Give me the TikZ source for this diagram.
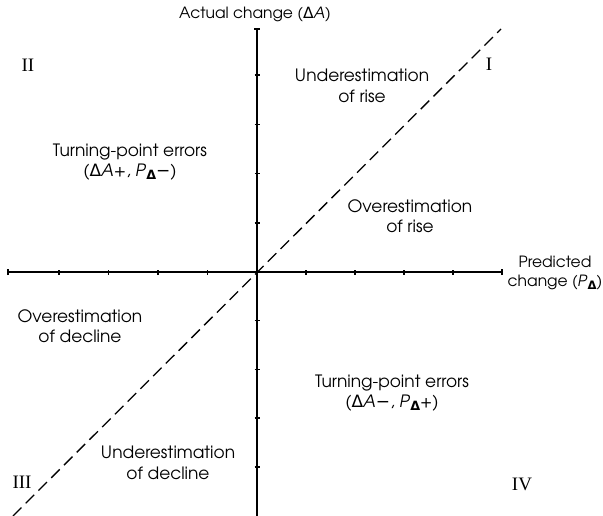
\documentclass[tikz,border=0pt]{standalone}
\usepackage{fontspec}
\setmainfont{texgyreadventor}[Extension=.otf,UprightFont=*-regular,ItalicFont=*-italic,BoldFont=*-bold]
\newfontfamily\dv{DejaVu Sans}
\newfontfamily\dvb{DejaVu Sans Bold}
\newfontfamily\rom{Liberation Serif}
\newcommand{\Dl}{{\dv Δ}}
\newcommand{\Dsub}{\raisebox{-0.35ex}{\scalebox{0.75}{\dvb Δ}}}
\newcommand{\mn}{{\dv −}}
\begin{document}
\begin{tikzpicture}[x=1pt,y=-1pt,
  axis/.style={line width=1.5pt,black},
  tick/.style={line width=1.5pt,black},
  diag/.style={line width=1.3pt,black,dash pattern=on 12pt off 6pt},
  lbl/.style={font=\fontsize{17}{20.5}\selectfont,align=center,inner sep=0pt},
  axlbl/.style={font=\fontsize{15.5}{19}\selectfont,align=center,inner sep=0pt},
  quad/.style={font=\rom\fontsize{19}{19}\selectfont,inner sep=0pt}]
\useasboundingbox (0,0) rectangle (603,516);
\coordinate (O) at (257,272);
\coordinate (ytop) at (257,29);
\coordinate (ybot) at (257,516);
\coordinate (xl) at (8,272);
\coordinate (xr) at (502,272);
\coordinate (dl) at (13,516);
\coordinate (dr) at (501,29);
\draw[axis] (ybot) -- (ytop);
\draw[axis] (xl) -- (xr);
\draw[tick] ([xshift=-3pt]ytop) -- ([xshift=3pt]ytop);
\draw[tick] ([yshift=-3pt]xl) -- ([yshift=3pt]xl);
\draw[tick] ([yshift=-3pt]xr) -- ([yshift=3pt]xr);
\foreach \i in {1,2,3,4} {
  \draw[tick] ([xshift=-2.5pt,yshift=-\i*48.7pt]O) -- ([xshift=2.5pt,yshift=-\i*48.7pt]O);
  \draw[tick] ([xshift=-2.5pt,yshift=\i*49.2pt]O) -- ([xshift=2.5pt,yshift=\i*49.2pt]O);
  \draw[tick] ([xshift=-\i*49.5pt,yshift=-2.5pt]O) -- ([xshift=-\i*49.5pt,yshift=2.5pt]O);
  \draw[tick] ([xshift=\i*49pt,yshift=-2.5pt]O) -- ([xshift=\i*49pt,yshift=2.5pt]O);
}
\draw[diag] (dl) -- (dr);
\node[axlbl] (ya) at (255,15) {Actual change (\Dl\textit{A})};
\node[axlbl] (xa) at (555,273) {Predicted\\change (\textit{P}\Dsub)};
\node[quad] (q2) at (28,65) {II};
\node[quad] (q1) at (489,64) {I};
\node[quad] (q3) at (22,482) {III};
\node[quad] (q4) at (522,484) {IV};
\node[lbl] (ur) at (362,86) {Underestimation\\of rise};
\node[lbl] (tp1) at (130,162) {Turning-point errors\\(\Dl\textit{A}+, \textit{P}\Dsub\mn)};
\node[lbl] (or) at (410,216) {Overestimation\\of rise};
\node[lbl] (od) at (80,326) {Overestimation\\of decline};
\node[lbl] (tp2) at (392,393) {Turning-point errors\\(\Dl\textit{A}\mn, \textit{P}\Dsub+)};
\node[lbl] (ud) at (168,463) {Underestimation\\of decline};
\end{tikzpicture}
\end{document}
